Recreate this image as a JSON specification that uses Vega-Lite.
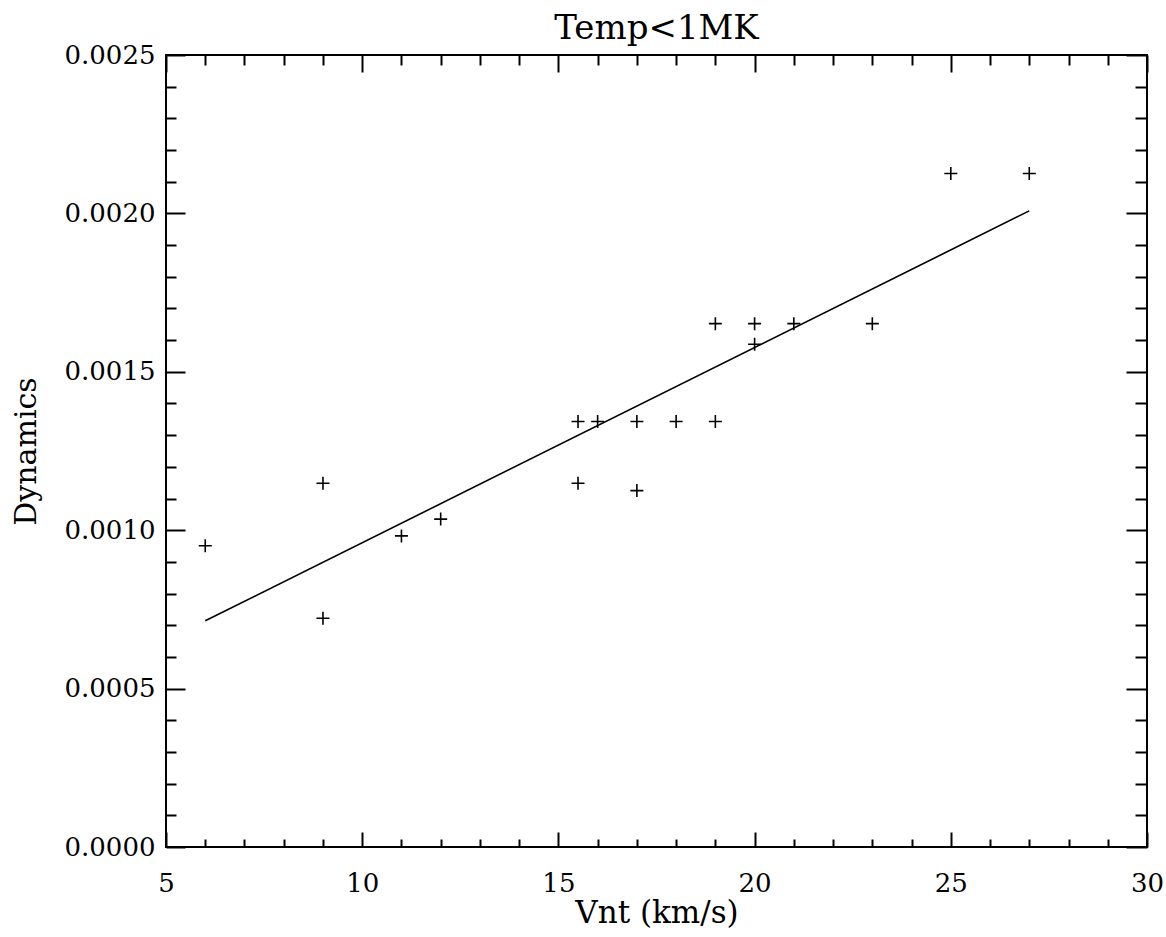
{
  "$schema": "https://vega.github.io/schema/vega-lite/v6.json",
  "width": 981,
  "height": 792,
  "autosize": "none",
  "padding": {"left": 166, "top": 55, "right": 19, "bottom": 90},
  "background": "white",
  "config": {
    "view": {"stroke": "black", "strokeWidth": 2},
    "font": "DejaVu Serif",
    "axis": {"grid": false, "domain": false, "labelColor": "black", "titleColor": "black", "tickColor": "black", "tickWidth": 2, "labelFont": "DejaVu Serif", "titleFont": "DejaVu Serif", "titleFontWeight": "normal"}
  },
  "title": {"text": "Temp<1MK", "fontSize": 34, "font": "DejaVu Serif", "fontWeight": "normal", "color": "black", "baseline": "alphabetic", "offset": 16, "dy": 47},
  "datasets": {
    "points": [
      {"vnt": 6, "dyn": 0.000951},
      {"vnt": 9, "dyn": 0.001148},
      {"vnt": 9, "dyn": 0.000722},
      {"vnt": 11, "dyn": 0.000982},
      {"vnt": 12, "dyn": 0.001035},
      {"vnt": 15.5, "dyn": 0.001343},
      {"vnt": 15.5, "dyn": 0.001148},
      {"vnt": 16, "dyn": 0.001343},
      {"vnt": 17, "dyn": 0.001343},
      {"vnt": 17, "dyn": 0.001125},
      {"vnt": 18, "dyn": 0.001343},
      {"vnt": 19, "dyn": 0.001652},
      {"vnt": 19, "dyn": 0.001343},
      {"vnt": 20, "dyn": 0.001652},
      {"vnt": 20, "dyn": 0.001587},
      {"vnt": 21, "dyn": 0.001652},
      {"vnt": 23, "dyn": 0.001652},
      {"vnt": 25, "dyn": 0.002126},
      {"vnt": 27, "dyn": 0.002126}
    ],
    "fit": [
      {"vnt": 6, "dyn": 0.000714},
      {"vnt": 27, "dyn": 0.002008}
    ]
  },
  "layer": [
    {
      "data": {"name": "points"},
      "mark": {"type": "point", "shape": "M-1,0L1,0M0,-1L0,1", "size": 169, "stroke": "black", "strokeWidth": 1.6, "filled": false, "opacity": 1},
      "encoding": {
        "x": {"field": "vnt", "type": "quantitative", "scale": {"domain": [5, 30], "nice": false, "zero": false},
              "axis": {"orient": "bottom", "values": [5, 10, 15, 20, 25, 30], "ticks": false, "tickSize": 0, "labelPadding": 23, "labelFontSize": 26, "labelAngle": 0, "labelFlush": false, "title": "Vnt (km/s)", "titleFontSize": 31, "titlePadding": 2}},
        "y": {"field": "dyn", "type": "quantitative", "scale": {"domain": [0, 0.0025], "nice": false, "zero": false},
              "axis": {"orient": "left", "values": [0, 0.0005, 0.001, 0.0015, 0.002, 0.0025], "format": ".4f", "ticks": false, "tickSize": 0, "labelPadding": 11, "labelFontSize": 26, "labelFlush": false, "title": "Dynamics", "titleFontSize": 30, "titlePadding": 23}}
      }
    },
    {
      "data": {"name": "fit"},
      "mark": {"type": "line", "color": "black", "strokeWidth": 1.6},
      "encoding": {
        "x": {"field": "vnt", "type": "quantitative", "axis": {"orient": "bottom", "values": [5, 10, 15, 20, 25, 30], "labels": false, "tickSize": -15, "title": null}},
        "y": {"field": "dyn", "type": "quantitative", "axis": {"orient": "left", "values": [0, 0.0005, 0.001, 0.0015, 0.002, 0.0025], "labels": false, "tickSize": -19, "title": null}}
      }
    },
    {
      "data": {"name": "points"},
      "mark": {"type": "point", "opacity": 0},
      "encoding": {
        "x": {"field": "vnt", "type": "quantitative", "axis": {"orient": "bottom", "values": [6, 7, 8, 9, 11, 12, 13, 14, 16, 17, 18, 19, 21, 22, 23, 24, 26, 27, 28, 29], "labels": false, "tickSize": -8, "title": null}},
        "y": {"field": "dyn", "type": "quantitative", "axis": {"orient": "left", "values": [0.0001, 0.0002, 0.0003, 0.0004, 0.0006, 0.0007, 0.0008, 0.0009, 0.0011, 0.0012, 0.0013, 0.0014, 0.0016, 0.0017, 0.0018, 0.0019, 0.0021, 0.0022, 0.0023, 0.0024], "labels": false, "tickSize": -10, "title": null}}
      }
    },
    {
      "data": {"name": "points"},
      "mark": {"type": "point", "opacity": 0},
      "encoding": {
        "x": {"field": "vnt", "type": "quantitative", "axis": {"orient": "top", "values": [5, 10, 15, 20, 25, 30], "labels": false, "tickSize": -17, "title": null}},
        "y": {"field": "dyn", "type": "quantitative", "axis": {"orient": "right", "values": [0, 0.0005, 0.001, 0.0015, 0.002, 0.0025], "labels": false, "tickSize": -21, "title": null}}
      }
    },
    {
      "data": {"name": "points"},
      "mark": {"type": "point", "opacity": 0},
      "encoding": {
        "x": {"field": "vnt", "type": "quantitative", "axis": {"orient": "top", "values": [6, 7, 8, 9, 11, 12, 13, 14, 16, 17, 18, 19, 21, 22, 23, 24, 26, 27, 28, 29], "labels": false, "tickSize": -10, "title": null}},
        "y": {"field": "dyn", "type": "quantitative", "axis": {"orient": "right", "values": [0.0001, 0.0002, 0.0003, 0.0004, 0.0006, 0.0007, 0.0008, 0.0009, 0.0011, 0.0012, 0.0013, 0.0014, 0.0016, 0.0017, 0.0018, 0.0019, 0.0021, 0.0022, 0.0023, 0.0024], "labels": false, "tickSize": -12, "title": null}}
      }
    }
  ],
  "resolve": {"axis": {"x": "independent", "y": "independent"}}
}
